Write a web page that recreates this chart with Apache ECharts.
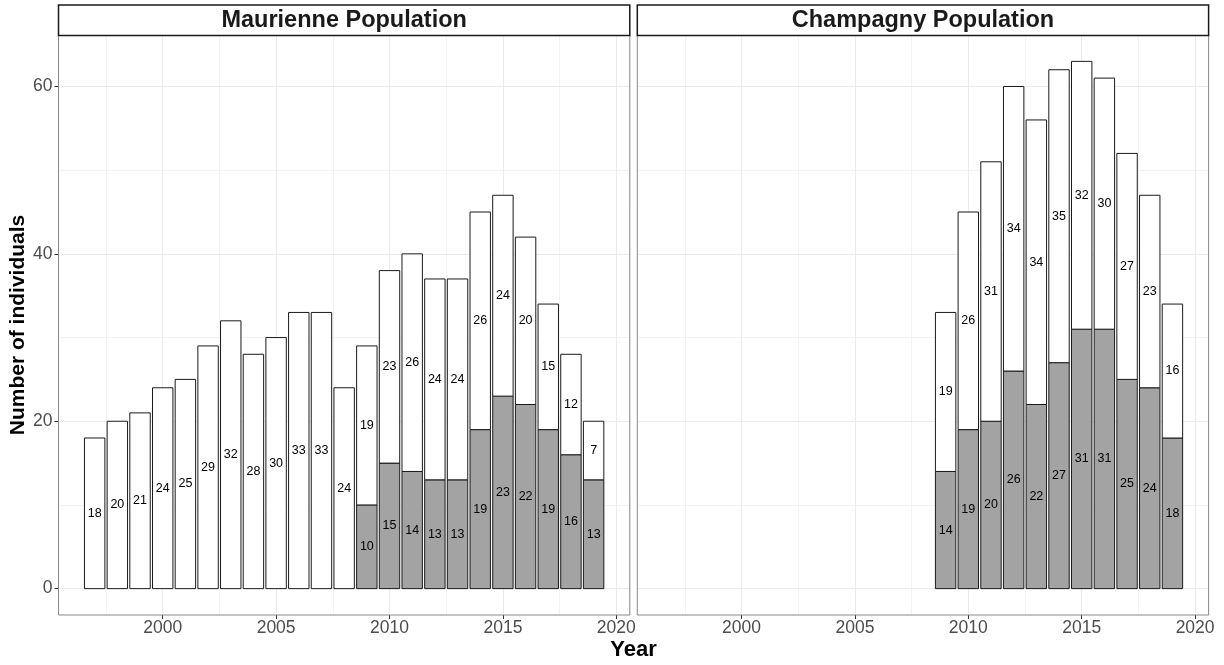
<!DOCTYPE html>
<html>
<head>
<meta charset="utf-8">
<script src="https://cdn.jsdelivr.net/npm/echarts@6/dist/echarts.min.js"></script>
<style>html,body{margin:0;padding:0;background:#fff;}#chart{width:1224px;height:665px;}</style>
</head>
<body>
<div id="chart"></div>
<script>
// ---- data ----
const maurYears = [1997,1998,1999,2000,2001,2002,2003,2004,2005,2006,2007,2008,2009,2010,2011,2012,2013,2014,2015,2016,2017,2018,2019];
const maurGray  = [0,0,0,0,0,0,0,0,0,0,0,0,10,15,14,13,13,19,23,22,19,16,13];
const maurWhite = [18,20,21,24,25,29,32,28,30,33,33,24,19,23,26,24,24,26,24,20,15,12,7];
const champYears = [2009,2010,2011,2012,2013,2014,2015,2016,2017,2018,2019];
const champGray  = [14,19,20,26,22,27,31,31,25,24,18];
const champWhite = [19,26,31,34,34,35,32,30,27,23,16];
const panelTitles = ['Maurienne Population', 'Champagny Population'];
const xTicks = [2000, 2005, 2010, 2015, 2020];
const xMinor = [1997.5, 2002.5, 2007.5, 2012.5, 2017.5];
const yTicks = [0, 20, 40, 60];
const yMinor = [10, 30, 50];
const xTitle = 'Year';
const yTitle = 'Number of individuals';

// ---- layout ----
const FONT = '"Liberation Sans", Arial, Helvetica, sans-serif';
const XMIN = 1995.405, XMAX = 2020.595, YMIN = -3.15, YMAX = 66.15;
const grids = [
  {left: 58.5, top: 35, width: 571.3, height: 580},
  {left: 637.3, top: 35, width: 571.3, height: 580}
];

function buildData(years, gray, white) {
  const out = [];
  years.forEach((y, i) => {
    if (gray[i] > 0) out.push([y, 0, gray[i], gray[i], 1]);
    out.push([y, gray[i], gray[i] + white[i], white[i], 0]);
  });
  return out;
}

function renderItem(params, api) {
  const x = api.value(0), lo = api.value(1), hi = api.value(2), v = api.value(3), g = api.value(4);
  const p0 = api.coord([x - 0.45, hi]);
  const p1 = api.coord([x + 0.45, lo]);
  return {
    type: 'group',
    children: [
      {type: 'rect', shape: {x: p0[0], y: p0[1], width: p1[0] - p0[0], height: p1[1] - p0[1]},
       style: {fill: g ? '#A3A3A3' : '#ffffff', stroke: '#1a1a1a', lineWidth: 1}},
      {type: 'text', style: {text: String(v), x: (p0[0] + p1[0]) / 2, y: (p0[1] + p1[1]) / 2,
        align: 'center', verticalAlign: 'middle', font: '12.5px ' + FONT, fill: '#000'}}
    ]
  };
}

const plain = v => String(Math.round(v));
const xAxes = [], yAxes = [];
for (let k = 0; k < 2; k++) {
  // major
  xAxes.push({
    type: 'value', gridIndex: k, min: XMIN, max: XMAX, z: 1, position: 'bottom',
    axisLine: {show: false, onZero: false},
    axisTick: {show: true, length: 4, lineStyle: {color: '#333', width: 1}, customValues: xTicks},
    axisLabel: {show: true, customValues: xTicks, formatter: plain, color: '#4D4D4D', fontSize: 17.5, fontFamily: FONT, margin: 4},
    splitLine: {show: true, lineStyle: {color: '#EBEBEB', width: 1}}
  });
  yAxes.push({
    type: 'value', gridIndex: k, min: YMIN, max: YMAX, z: 1, position: 'left',
    axisLine: {show: false, onZero: false},
    axisTick: {show: k === 0, length: 4, lineStyle: {color: '#333', width: 1}, customValues: yTicks},
    axisLabel: {show: k === 0, customValues: yTicks, formatter: plain, color: '#4D4D4D', fontSize: 17.5, fontFamily: FONT, margin: 6},
    splitLine: {show: true, lineStyle: {color: '#EBEBEB', width: 1}},
    name: k === 0 ? yTitle : '', nameLocation: 'middle', nameGap: 30, nameRotate: 90,
    nameTextStyle: {fontSize: 21, fontWeight: 'bold', color: '#000', fontFamily: FONT}
  });
}
for (let k = 0; k < 2; k++) {
  // minor
  xAxes.push({
    type: 'value', gridIndex: k, min: XMIN, max: XMAX, z: 0, position: 'bottom',
    axisLine: {show: false, onZero: false}, axisLabel: {show: false, customValues: xMinor},
    axisTick: {show: false, customValues: xMinor},
    splitLine: {show: true, lineStyle: {color: '#F3F3F3', width: 1}}
  });
  yAxes.push({
    type: 'value', gridIndex: k, min: YMIN, max: YMAX, z: 0, position: 'left',
    axisLine: {show: false, onZero: false}, axisLabel: {show: false, customValues: yMinor},
    axisTick: {show: false, customValues: yMinor},
    splitLine: {show: true, lineStyle: {color: '#F3F3F3', width: 1}}
  });
}

const graphics = [];
grids.forEach((g, k) => {
  graphics.push({type: 'rect', z: 10, shape: {x: g.left, y: 5, width: g.width, height: 30.5},
    style: {fill: '#ffffff', stroke: '#1a1a1a', lineWidth: 1.5}});
  graphics.push({type: 'text', z: 11, style: {text: panelTitles[k], x: g.left + g.width / 2, y: 21,
    align: 'center', verticalAlign: 'middle', font: 'bold 23.5px ' + FONT, fill: '#1a1a1a'}});
});
graphics.push({type: 'text', z: 11, style: {text: xTitle, x: (grids[0].left + grids[1].left + grids[1].width) / 2, y: 650,
  align: 'center', verticalAlign: 'middle', font: 'bold 22px ' + FONT, fill: '#000'}});

const chart = echarts.init(document.getElementById('chart'), null, {renderer: 'canvas'});
chart.setOption({
  animation: false,
  backgroundColor: '#ffffff',
  grid: grids.map(g => Object.assign({show: true, borderColor: '#888', borderWidth: 1, backgroundColor: 'transparent', z: 3,
    containLabel: false, outerBoundsMode: 'none'}, g)),
  xAxis: xAxes,
  yAxis: yAxes,
  series: [
    {type: 'custom', xAxisIndex: 0, yAxisIndex: 0, renderItem: renderItem, encode: {x: 0, y: [1, 2]}, z: 5,
     data: buildData(maurYears, maurGray, maurWhite)},
    {type: 'custom', xAxisIndex: 1, yAxisIndex: 1, renderItem: renderItem, encode: {x: 0, y: [1, 2]}, z: 5,
     data: buildData(champYears, champGray, champWhite)}
  ],
  graphic: graphics
});
</script>
</body>
</html>
